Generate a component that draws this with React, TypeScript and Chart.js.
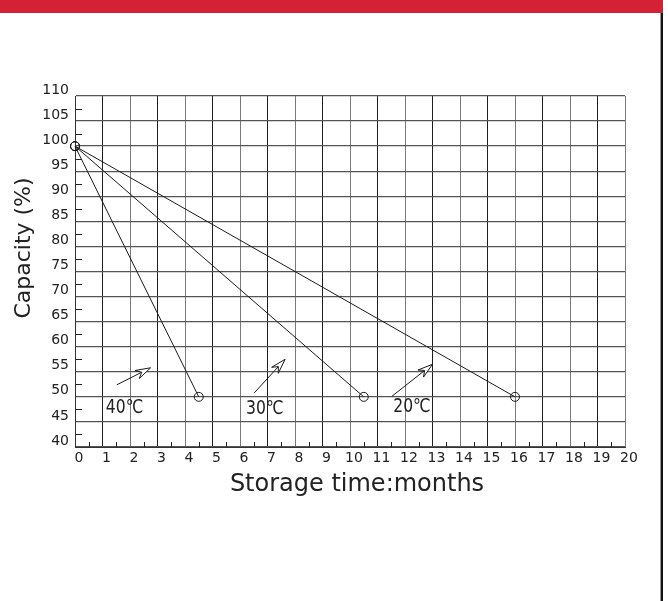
import { useEffect, useRef } from 'react';
import { Chart, registerables } from 'chart.js';

Chart.register(...registerables);

// ---- data ----
const monthTicks = [0, 1, 2, 3, 4, 5, 6, 7, 8, 9, 10, 11, 12, 13, 14, 15, 16, 17, 18, 19, 20];
const capacityTicks = [40, 45, 50, 55, 60, 65, 70, 75, 80, 85, 90, 95, 100, 105, 110];
const minorMonthTicks = [0.5, 1.5, 2.5, 3.5, 4.5, 5.5, 6.5, 7.5, 8.5, 9.5, 10.5, 11.5, 12.5, 13.5, 14.5, 15.5, 16.5, 17.5, 18.5, 19.5];
const minorCapacityTicks = [42.5, 47.5, 52.5, 57.5, 62.5, 67.5, 72.5, 77.5, 82.5, 87.5, 92.5, 97.5, 102.5, 107.5];

const seriesNames = ['40℃', '30℃', '20℃'];
const startMonth = [0, 0, 0];
const startCapacity = [100, 100, 100];
const endMonth = [4.5, 10.5, 16];
const endCapacity = [50, 50, 50];

const labelMonth = [1.8, 6.9, 12.25];
const labelCapacity = [47.7, 47.5, 48.0];
const arrowFromMonth = [1.52, 6.52, 11.52];
const arrowFromCapacity = [52.4, 50.8, 50.1];
const arrowToMonth = [2.75, 7.64, 13.0];
const arrowToCapacity = [55.8, 57.5, 56.5];

const xTitle = 'Storage time:months';
const yTitle = 'Capacity (%)';

const FONT = '"DejaVu Sans", "Verdana", sans-serif';

const overlayPlugin = {
  id: 'overlay',
  afterDatasetsDraw(chart: any) {
    const { ctx, chartArea } = chart;
    const x = chart.scales.x;
    const y = chart.scales.y;
    ctx.save();
    // minor ticks
    ctx.strokeStyle = '#222';
    ctx.lineWidth = 1;
    minorMonthTicks.forEach((m) => {
      const px = Math.round(x.getPixelForValue(m)) + 0.5;
      ctx.beginPath();
      ctx.moveTo(px, chartArea.bottom);
      ctx.lineTo(px, chartArea.bottom - 5);
      ctx.stroke();
    });
    minorCapacityTicks.forEach((c) => {
      const py = Math.round(y.getPixelForValue(c)) + 0.5;
      ctx.beginPath();
      ctx.moveTo(chartArea.left, py);
      ctx.lineTo(chartArea.left + 7, py);
      ctx.stroke();
    });
    // arrows
    ctx.strokeStyle = '#1a1a1a';
    ctx.fillStyle = '#ffffff';
    seriesNames.forEach((_, i) => {
      const x0 = x.getPixelForValue(arrowFromMonth[i]);
      const y0 = y.getPixelForValue(arrowFromCapacity[i]);
      const x1 = x.getPixelForValue(arrowToMonth[i]);
      const y1 = y.getPixelForValue(arrowToCapacity[i]);
      const dx = x1 - x0;
      const dy = y1 - y0;
      const len = Math.hypot(dx, dy);
      const ux = dx / len;
      const uy = dy / len;
      const nx = -uy;
      const ny = ux;
      const headLen = 15;
      const notch = 10;
      const half = 4.5;
      ctx.beginPath();
      ctx.moveTo(x0, y0);
      ctx.lineTo(x1 - ux * notch, y1 - uy * notch);
      ctx.stroke();
      ctx.beginPath();
      ctx.moveTo(x1, y1);
      ctx.lineTo(x1 - ux * headLen + nx * half, y1 - uy * headLen + ny * half);
      ctx.lineTo(x1 - ux * notch, y1 - uy * notch);
      ctx.lineTo(x1 - ux * headLen - nx * half, y1 - uy * headLen - ny * half);
      ctx.closePath();
      ctx.fill();
      ctx.stroke();
    });
    // labels
    ctx.fillStyle = '#222';
    ctx.font = `19px ${FONT}`;
    ctx.textAlign = 'center';
    ctx.textBaseline = 'middle';
    seriesNames.forEach((name, i) => {
      ctx.save();
      ctx.translate(x.getPixelForValue(labelMonth[i]), y.getPixelForValue(labelCapacity[i]));
      ctx.scale(0.82, 1);
      ctx.fillText(name, 0, 0);
      ctx.restore();
    });
    // axis titles
    ctx.font = `24px ${FONT}`;
    ctx.textBaseline = 'alphabetic';
    ctx.fillText(xTitle, 357, 491);
    ctx.save();
    ctx.translate(30, 248);
    ctx.rotate(-Math.PI / 2);
    ctx.font = `22px ${FONT}`;
    ctx.fillText(yTitle, 0, 0);
    ctx.restore();
    ctx.restore();
  },
};

export default function App() {
  const ref = useRef<HTMLCanvasElement>(null);
  useEffect(() => {
    const datasets = seriesNames.map((name, i) => ({
      label: name,
      data: [
        { x: startMonth[i], y: startCapacity[i] },
        { x: endMonth[i], y: endCapacity[i] },
      ],
      borderColor: '#1a1a1a',
      borderWidth: 1,
      pointRadius: 4.5,
      pointBorderWidth: 1,
      pointBorderColor: '#1a1a1a',
      pointBackgroundColor: 'rgba(0,0,0,0)',
      showLine: true,
      clip: false as any,
      tension: 0,
    }));
    const chart = new Chart(ref.current!, {
      type: 'scatter',
      data: { datasets },
      options: {
        animation: false,
        responsive: false,
        devicePixelRatio: 1,
        layout: { padding: { left: 15, top: 96, right: 43, bottom: 0 } },
        plugins: { legend: { display: false }, tooltip: { enabled: false }, title: { display: false } },
        scales: {
          x: {
            type: 'linear',
            min: 0,
            max: 20,
            afterBuildTicks: (scale: any) => {
              scale.ticks = monthTicks.map((v) => ({ value: v }));
            },
            afterFit: (scale: any) => {
              scale.height = 154;
            },
            ticks: {
              font: { family: FONT, size: 14 },
              color: '#222',
              padding: 3,
              labelOffset: 4,
              maxRotation: 0,
              autoSkip: false,
            },
            grid: {
              drawTicks: false,
              lineWidth: 1,
              color: (c: any) => (c.index % 2 === 1 ? '#1e1e1e' : '#7a7a7a'),
            },
            border: { color: '#333', width: 1 },
          },
          y: {
            type: 'linear',
            min: 40,
            max: 110,
            afterBuildTicks: (scale: any) => {
              scale.ticks = capacityTicks.map((v) => ({ value: v }));
            },
            afterFit: (scale: any) => {
              scale.width = 60;
            },
            ticks: {
              font: { family: FONT, size: 14 },
              color: '#222',
              padding: 6,
              labelOffset: -6,
              autoSkip: false,
            },
            grid: {
              drawTicks: false,
              lineWidth: 1.3,
              color: '#555',
            },
            border: { color: '#333', width: 1 },
          },
        },
      },
      plugins: [overlayPlugin],
    });
    return () => chart.destroy();
  }, []);
  return (
    <div style={{ position: 'fixed', left: 0, top: 0, width: 668, height: 601, background: '#fff', overflow: 'hidden' }}>
      <div style={{ position: 'absolute', left: 0, top: 0, width: 663, height: 13, background: '#D32136' }} />
      <div style={{ position: 'absolute', left: 660, top: 13, width: 3, height: 588, background: '#111', borderLeft: '1px solid #999', boxSizing: 'border-box' }} />
      <canvas ref={ref} width={668} height={601} style={{ position: 'absolute', left: 0, top: 0, display: 'block' }} />
    </div>
  );
}
